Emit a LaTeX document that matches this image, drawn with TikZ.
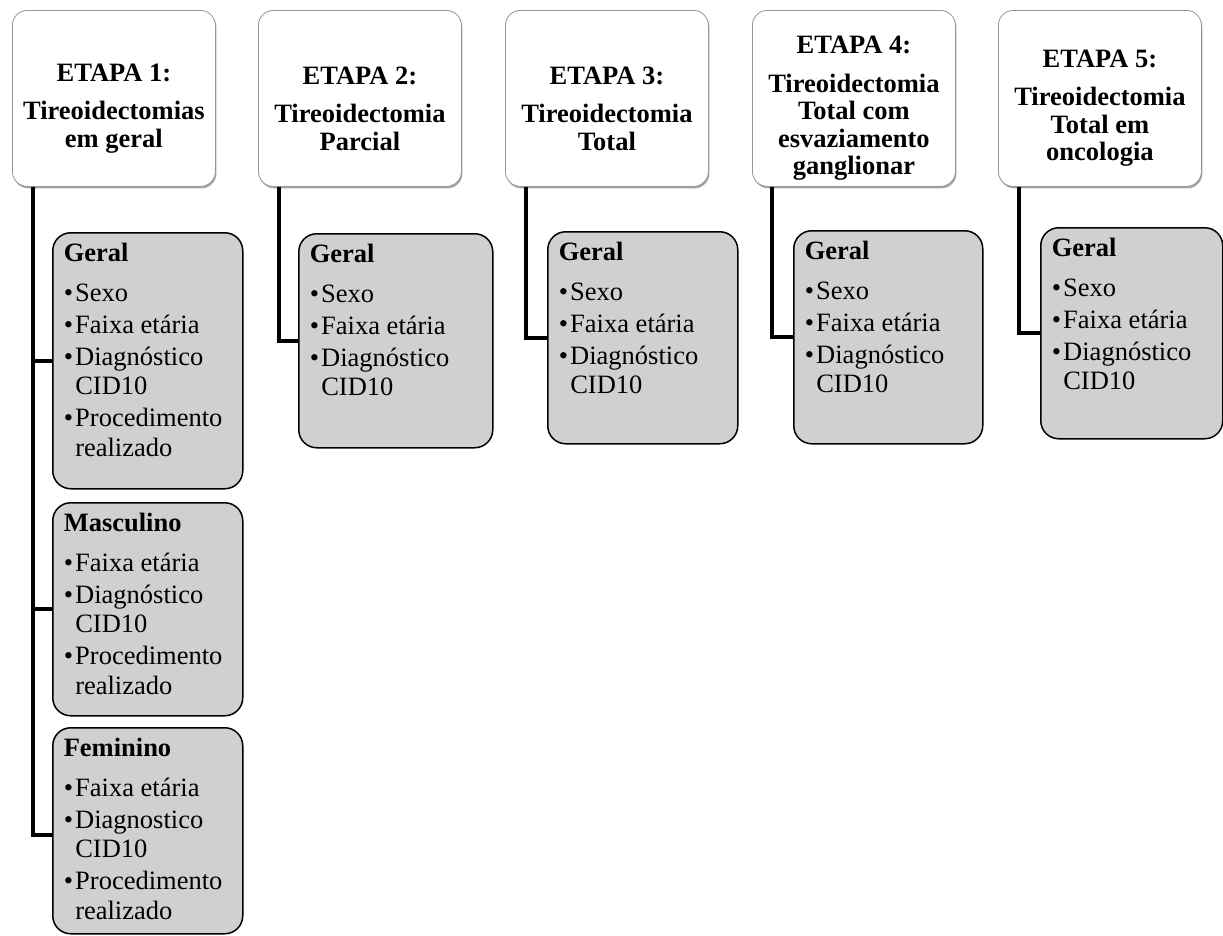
\documentclass[tikz,border=0pt]{standalone}
\usepackage{fontspec}
\setmainfont{Liberation Serif}
\usetikzlibrary{calc,shadows}
\definecolor{boxgray}{RGB}{208,208,208}
\definecolor{hdrline}{RGB}{150,150,150}
\newcommand{\itm}[1]{\par\hangindent=11.5pt\hangafter=1\noindent\makebox[11.5pt][l]{•}#1}
\newcommand{\gcontent}[4]{\begin{minipage}[c][#2pt][t]{#1pt}\raggedright\fontsize{26.5}{29.5}\selectfont\setlength{\parskip}{2.5pt}{\bfseries #3}\par\vspace{8pt}#4\end{minipage}}
\tikzset{
  hdr/.style={draw=hdrline, line width=0.8pt, fill=white, rounded corners=15pt,
    minimum width=203pt, minimum height=176pt, anchor=north west, inner sep=0pt,
    drop shadow={shadow xshift=1pt, shadow yshift=-2pt, fill=black, opacity=0.35}},
  hdrtext/.style={align=center, inner sep=0pt, yshift=-10pt,
    font=\fontsize{26.5}{27.5}\selectfont\bfseries},
  gbox/.style={draw=black, line width=1.5pt, fill=boxgray, rounded corners=18pt,
    anchor=north west, inner xsep=11pt, inner ysep=10pt, align=left},
  conn/.style={draw=black, line width=4pt}
}
\begin{document}
\begin{tikzpicture}[x=1pt, y=-1pt]
\useasboundingbox (0,0) rectangle (1223,935);
% header boxes
\node[hdr] (h1) at (12,10) {};
\node[hdr] (h2) at (258,10) {};
\node[hdr] (h3) at (505,10) {};
\node[hdr] (h4) at (752,10) {};
\node[hdr] (h5) at (998,10) {};
\node[hdrtext] (h1t) at (h1.center) {ETAPA 1:\\[11pt]Tireoidectomias\\em geral};
\node[hdrtext] (h2t) at (h2.center) {ETAPA 2:\\[11pt]Tireoidectomia\\Parcial};
\node[hdrtext] (h3t) at (h3.center) {ETAPA 3:\\[11pt]Tireoidectomia\\Total};
\node[hdrtext] (h4t) at (h4.center) {ETAPA 4:\\[11pt]Tireoidectomia\\Total com\\esvaziamento\\ganglionar};
\node[hdrtext] (h5t) at (h5.center) {ETAPA 5:\\[11pt]Tireoidectomia\\Total em\\oncologia};
% gray boxes
\node[gbox] (g1a) at (52,232) {\gcontent{168}{236}{Geral}{\itm{Sexo}\itm{Faixa etária}\itm{Diagnóstico\newline CID10}\itm{Procedimento\newline realizado}}};
\node[gbox] (g1b) at (52,502) {\gcontent{168}{193}{Masculino}{\itm{Faixa etária}\itm{Diagnóstico\newline CID10}\itm{Procedimento\newline realizado}}};
\node[gbox] (g1c) at (52,727) {\gcontent{168}{186}{Feminino}{\itm{Faixa etária}\itm{Diagnostico\newline CID10}\itm{Procedimento\newline realizado}}};
\node[gbox] (g2) at (298,233) {\gcontent{172}{194}{Geral}{\itm{Sexo}\itm{Faixa etária}\itm{Diagnóstico\newline CID10}}};
\node[gbox] (g3) at (547,231) {\gcontent{168}{192}{Geral}{\itm{Sexo}\itm{Faixa etária}\itm{Diagnóstico\newline CID10}}};
\node[gbox] (g4) at (793,230) {\gcontent{167}{193}{Geral}{\itm{Sexo}\itm{Faixa etária}\itm{Diagnóstico\newline CID10}}};
\node[gbox] (g5) at (1040,227) {\gcontent{160}{191}{Geral}{\itm{Sexo}\itm{Faixa etária}\itm{Diagnóstico\newline CID10}}};
% connectors
\draw[conn] ($(h1.south west)+(21,0)$) |- ($(g1c.west)+(0,4)$);
\draw[conn] ($(h1.south west)+(21,0)$) |- (g1a.west);
\draw[conn] ($(h1.south west)+(21,0)$) |- (g1b.west);
\draw[conn] ($(h2.south west)+(21,0)$) |- (g2.west);
\draw[conn] ($(h3.south west)+(21,0)$) |- (g3.west);
\draw[conn] ($(h4.south west)+(20,0)$) |- (g4.west);
\draw[conn] ($(h5.south west)+(21,0)$) |- (g5.west);
\end{tikzpicture}
\end{document}
